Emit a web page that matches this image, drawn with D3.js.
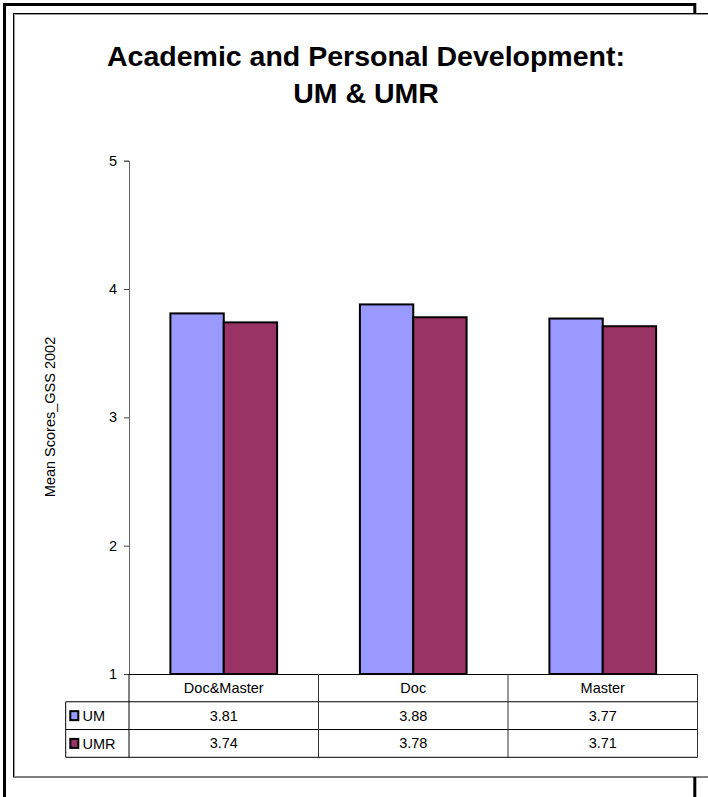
<!DOCTYPE html>
<html>
<head>
<meta charset="utf-8">
<script src="https://cdn.jsdelivr.net/npm/d3@7"></script>
<style>
  html, body { margin: 0; padding: 0; background: #fff; overflow: hidden; }
  svg { display: block; font-family: "Liberation Sans", Arial, sans-serif; }
</style>
</head>
<body>
<svg id="chart" width="708" height="797"></svg>
<script>
// ---- data ----
const categories = ["Doc&Master", "Doc", "Master"];
const seriesNames = ["UM", "UMR"];
const umValues = [3.81, 3.88, 3.77];
const umrValues = [3.74, 3.78, 3.71];
const yTicks = [1, 2, 3, 4, 5];
const titleLines = ["Academic and Personal Development:", "UM & UMR"];
const yAxisTitle = "Mean Scores_GSS 2002";
const seriesColors = ["#9999FF", "#993366"];

const seriesValues = [umValues, umrValues];

const svg = d3.select("#chart");

// page frame (thick) and chart area
svg.append("rect").attr("x", 4.5).attr("y", 4.5).attr("width", 690.3).attr("height", 820)
  .attr("fill", "none").attr("stroke", "#000").attr("stroke-width", 3);
svg.append("rect").attr("x", 13.5).attr("y", 13.5).attr("width", 720).attr("height", 763.5)
  .attr("fill", "#fff").attr("stroke", "#000").attr("stroke-width", 1);
svg.append("path").attr("d", "M14.5,777 V14.5 H708")
  .attr("fill", "none").attr("stroke", "#999").attr("stroke-width", 1);

// title
svg.append("g").selectAll("text").data(titleLines).join("text")
  .attr("x", 366).attr("y", (d, i) => 65.5 + i * 37.5)
  .attr("text-anchor", "middle").attr("font-weight", "bold").attr("font-size", 28.5)
  .attr("fill", "#000").text(d => d);

// scales
const plotLeft = 129, plotRight = 697.5, plotTop = 160.7, plotBottom = 674;
const y = d3.scaleLinear().domain([1, 5]).range([plotBottom, plotTop]);
const x0 = d3.scaleBand().domain(categories).range([plotLeft, plotRight]).padding(0);
const x1 = d3.scaleBand().domain(seriesNames).range([0, x0.bandwidth()])
  .paddingInner(0).paddingOuter(0.776);

// bars
const bars = svg.append("g");
seriesNames.forEach((s, si) => {
  bars.append("g").selectAll("rect").data(categories).join("rect")
    .attr("x", c => x0(c) + x1(s))
    .attr("y", (c, ci) => y(seriesValues[si][ci]))
    .attr("width", x1.bandwidth())
    .attr("height", (c, ci) => y(1) - y(seriesValues[si][ci]))
    .attr("fill", seriesColors[si])
    .attr("stroke", "#000").attr("stroke-width", 2);
});

// y axis
const yAxis = svg.append("g").attr("transform", `translate(${plotLeft},0)`)
  .call(d3.axisLeft(y).tickValues(yTicks).tickSize(5).tickPadding(7).tickFormat(d3.format("d")));
yAxis.select(".domain").attr("stroke", "#666");
yAxis.selectAll(".tick line").attr("stroke", "#444");
yAxis.selectAll(".tick text").attr("font-size", 14.5).attr("fill", "#000")
  .attr("font-family", "'Liberation Sans', Arial, sans-serif");

// y axis title
svg.append("text").attr("transform", "translate(55,417) rotate(-90)")
  .attr("text-anchor", "middle").attr("font-size", 14.5).attr("fill", "#000").text(yAxisTitle);

// data table
const tableLeft = 65.7, tableBottom = 757.3;
const rowKeys = ["header"].concat(seriesNames);
const rows = d3.scaleBand().domain(rowKeys).range([plotBottom, tableBottom]);
const table = svg.append("g");

// horizontal lines
table.append("line").attr("x1", plotLeft).attr("x2", plotRight)
  .attr("y1", plotBottom + 0.5).attr("y2", plotBottom + 0.5).attr("stroke", "#000");
seriesNames.forEach(s => {
  table.append("line").attr("x1", tableLeft).attr("x2", plotRight)
    .attr("y1", rows(s)).attr("y2", rows(s)).attr("stroke", "#000");
});
table.append("line").attr("x1", tableLeft).attr("x2", plotRight)
  .attr("y1", tableBottom).attr("y2", tableBottom).attr("stroke", "#000");
// vertical lines
table.append("line").attr("x1", tableLeft).attr("x2", tableLeft)
  .attr("y1", rows("UM")).attr("y2", tableBottom).attr("stroke", "#000");
table.append("line").attr("x1", plotLeft).attr("x2", plotLeft)
  .attr("y1", plotBottom).attr("y2", tableBottom).attr("stroke", "#000");
categories.forEach(c => {
  const xr = x0(c) + x0.bandwidth();
  table.append("line").attr("x1", xr).attr("x2", xr)
    .attr("y1", plotBottom).attr("y2", tableBottom).attr("stroke", "#333");
});

// header labels
table.append("g").selectAll("text").data(categories).join("text")
  .attr("x", c => x0(c) + x0.bandwidth() / 2)
  .attr("y", rows("header") + rows.bandwidth() / 2 + 5)
  .attr("text-anchor", "middle").attr("font-size", 14.5).attr("fill", "#000").text(c => c);

// series rows
seriesNames.forEach((s, si) => {
  const cy = rows(s) + rows.bandwidth() / 2;
  table.append("rect").attr("x", 70.3).attr("y", cy - 4.5).attr("width", 8).attr("height", 9)
    .attr("fill", seriesColors[si]).attr("stroke", "#000").attr("stroke-width", 2);
  table.append("text").attr("x", 82.5).attr("y", cy + 5.5)
    .attr("font-size", 14.5).attr("fill", "#000").text(s);
  table.append("g").selectAll("text").data(categories).join("text")
    .attr("x", c => x0(c) + x0.bandwidth() / 2)
    .attr("y", cy + 5)
    .attr("text-anchor", "middle").attr("font-size", 14.5).attr("fill", "#000")
    .text((c, ci) => seriesValues[si][ci].toFixed(2));
});
</script>
</body>
</html>
